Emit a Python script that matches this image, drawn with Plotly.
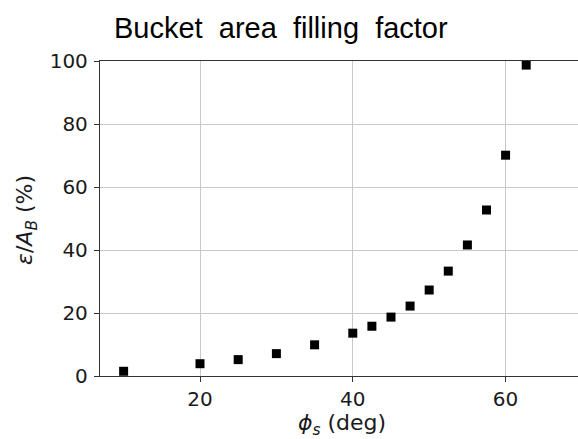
import plotly.graph_objects as go

# Synchronous phase angle (deg) and bucket area filling factor (%)
phi_s = [10, 20, 25, 30, 35, 40, 42.5, 45, 47.5, 50, 52.5, 55, 57.5, 60, 62.7]
filling = [1.5, 3.9, 5.2, 7.1, 9.9, 13.6, 15.8, 18.7, 22.2, 27.3, 33.3, 41.6, 52.7, 70.1, 98.7]

x_ticks = [20, 40, 60]
y_ticks = [0, 20, 40, 60, 80, 100]

W, H = 578, 439
L, R, T, B = 100, 0, 61, 63
PW, PH = W - L - R, H - T - B


def px_x(x):
    return (x - L) / PW


def px_y(y):
    return (H - B - y) / PH


fig = go.Figure()
fig.add_trace(go.Scatter(
    x=phi_s, y=filling, mode="markers",
    marker=dict(symbol="square", size=9, color="black", line=dict(width=0)),
    cliponaxis=False, showlegend=False,
))

tick_font = dict(family="DejaVu Sans", size=20, color="#1a1a1a")
axis_common = dict(
    showline=True, linecolor="#333333", linewidth=1.3,
    showgrid=True, gridcolor="#c8c8c8", gridwidth=1,
    ticks="outside", ticklen=5, tickwidth=1.2, tickcolor="#333333",
    tickfont=tick_font, zeroline=False,
)

fig.update_xaxes(range=[6.91, 69.48], tickvals=x_ticks, mirror=True, **axis_common)
fig.update_yaxes(range=[0, 100], tickvals=y_ticks, ticklabelstandoff=2, **axis_common)

fig.update_layout(
    width=W, height=H,
    margin=dict(l=L, r=R, t=T, b=B, pad=0),
    paper_bgcolor="white", plot_bgcolor="white",
)

gap = "\u00a0" * 2
fig.add_annotation(
    text=gap.join(["Bucket", "area", "filling", "factor"]),
    xref="paper", yref="paper", x=px_x(112), y=px_y(28),
    xanchor="left", yanchor="middle", showarrow=False,
    font=dict(family="Liberation Sans", size=29, color="black"),
)

# Axis labels
fig.add_annotation(
    text="<i>ϕ</i><sub><i>s</i></sub> (deg)", xref="paper", yref="paper",
    x=px_x(342), y=px_y(425),
    xanchor="center", yanchor="middle", showarrow=False,
    font=dict(family="DejaVu Sans", size=22, color="#1a1a1a"),
)
fig.add_annotation(
    text="<i>ε</i>/<i>A</i><sub><i>B</i></sub> (%)", xref="paper", yref="paper",
    x=px_x(26), y=px_y(220), textangle=-90,
    xanchor="center", yanchor="middle", showarrow=False,
    font=dict(family="DejaVu Sans", size=22, color="#1a1a1a"),
)

fig.write_html("out.html")
